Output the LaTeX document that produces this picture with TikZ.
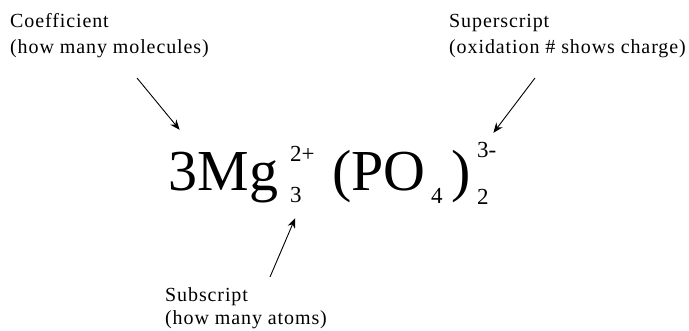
\documentclass[tikz,border=0pt]{standalone}
\usepackage{fontspec}
\setmainfont{Liberation Serif}
\newfontfamily\lblfont[LetterSpace=4.5]{Liberation Serif}
\usepackage{tikz}
\usetikzlibrary{arrows.meta}
\tikzset{
  lbl/.style={inner sep=0pt,anchor=base west,align=left,
              font=\lblfont\fontsize{20}{26}\selectfont},
  chem/.style={inner sep=0pt,anchor=base west,font=\fontsize{58}{60}\selectfont},
  script/.style={inner sep=0pt,anchor=base west,font=\fontsize{23}{24}\selectfont},
  pointer/.style={-{Stealth[length=10pt,width=8pt]},line width=0.9pt}
}

\begin{document}
\begin{tikzpicture}[x=1pt,y=-1pt]
  \useasboundingbox (0,0) rectangle (689,330);
  % labels (base = last line)
  \node[lbl] (coeflbl) at (10,53) {Coefficient\\(how many molecules)};
  \node[lbl] (suplbl) at (449,53) {Superscript\\(oxidation \# shows charge)};
  \node[lbl,font=\lblfont\fontsize{20}{23}\selectfont] (sublbl) at (165,324)
        {Subscript\\(how many atoms)};
  % the formula
  \node[chem] (coef) at (168,190) {3};
  \node[chem] (mg) at (coef.base east) {Mg};
  \node[script] (supa) at (290,161) {2+};
  \node[script] (suba) at (290,202) {3};
  \node[chem] (po) at (332,190) {(PO};
  \node[script] (subb) at (431,203) {4};
  \node[chem] (rpar) at (451,190) {)};
  \node[script] (supb) at (477,157) {3-};
  \node[script] (subc) at (477,204) {2};
  % arrows
  \coordinate (coeftail) at (137,78);
  \coordinate (suptail) at (535,78);
  \coordinate (subtail) at (270,277);
  \draw[pointer,shorten >=28pt] (coeftail) -- (coef.north east);
  \draw[pointer,shorten >=11pt] (suptail) -- (supb.north);
  \draw[pointer,shorten >=17pt] (subtail) -- (suba.south east);
\end{tikzpicture}
\end{document}
